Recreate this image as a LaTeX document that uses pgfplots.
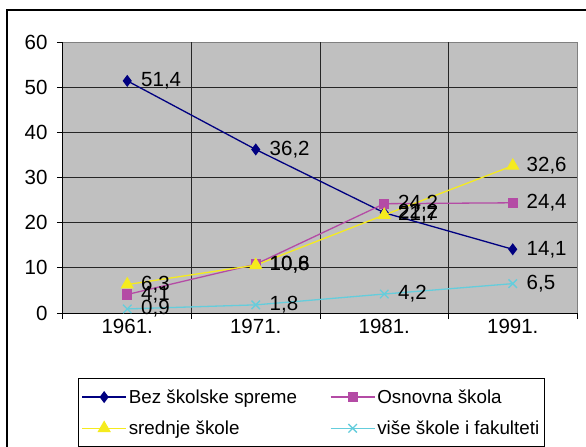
\documentclass[border=0pt]{standalone}
\usepackage{pgfplots}
\pgfplotsset{compat=1.18}
\usepackage{fontspec}
\setmainfont{Liberation Sans}
\newcommand\cf{\fontsize{20.5bp}{24bp}\selectfont}
\newcommand\lf{\fontsize{18.8bp}{22bp}\selectfont}
\definecolor{sNavy}{RGB}{0,0,128}
\definecolor{sMag}{RGB}{180,75,165}
\definecolor{sYel}{RGB}{245,235,30}
\definecolor{sCyan}{RGB}{100,205,220}
\definecolor{plotbg}{RGB}{192,192,192}
\definecolor{plotbd}{RGB}{128,128,128}
\begin{document}
\begin{tikzpicture}
\path[use as bounding box] (0,0) rectangle (586bp,447bp);
\draw[line width=1.3bp] (7bp,0bp) -- (7bp,437bp) -- (586bp,437bp);
\begin{axis}[
  at={(63bp,134bp)}, anchor=south west,
  width=514bp, height=271bp, scale only axis,
  xmin=0.5, xmax=4.5, ymin=0, ymax=60,
  axis lines*=left,
  axis line style={black, line width=1bp},
  axis background/.style={fill=plotbg, draw=plotbd, line width=1bp},
  tick align=outside,
  major tick length=6bp, minor tick length=6bp,
  tick style={black, line width=1bp},
  grid style={draw=black!85, line width=1bp},
  xtick={0.5,1.5,2.5,3.5}, xticklabels={},
  minor xtick={4.5},
  xmajorgrids,
  extra x ticks={1,2,3,4},
  extra x tick labels={1961.,1971.,1981.,1991.},
  extra x tick style={major tick length=0pt, grid=none},
  ytick={0,10,20,30,40,50},
  ymajorgrids,
  extra y ticks={60},
  extra y tick style={grid=none},
  /pgf/number format/assume math mode=true,
  ticklabel style={font=\cf},
  yticklabel style={xshift=-6bp},
  xticklabel style={yshift=-3bp},
  nodes near coords={\pgfmathprintnumber[use comma,fixed,fixed zerofill,precision=1]{\pgfplotspointmeta}},
  every node near coord/.append style={font=\cf, anchor=west, xshift=10bp, text=black},
  legend columns=2,
  legend style={at={(0.0292,-0.2399)}, anchor=north west,
    draw=black, line width=1bp, font=\lf,
    inner xsep=3bp, inner ysep=9bp,
    /tikz/every even column/.append style={column sep=31bp},
    row sep=12bp},
  legend cell align=left,
  legend image code/.code={\draw[mark repeat=2,mark phase=2] plot coordinates {(0bp,0bp) (22bp,0bp) (44bp,0bp)};},
]
\addplot[sNavy, line width=1.3bp, mark=diamond*, mark size=5bp, mark options={fill=sNavy, draw=sNavy}]
  coordinates {(1,51.4) (2,36.2) (3,22.2) (4,14.1)};
\addlegendentry{Bez školske spreme}
\addplot[sMag, line width=1.3bp, mark=square*, mark size=4.5bp, mark options={fill=sMag, draw=sMag}]
  coordinates {(1,4.1) (2,10.8) (3,24.2) (4,24.4)};
\addlegendentry{Osnovna škola}
\addplot[sYel, line width=1.3bp, mark=triangle*, mark size=6.5bp, mark options={fill=sYel, draw=sYel}]
  coordinates {(1,6.3) (2,10.6) (3,21.7) (4,32.6)};
\addlegendentry{srednje škole}
\addplot[sCyan, line width=1.3bp, mark=x, mark size=6bp, mark options={draw=sCyan, line width=1.3bp}]
  coordinates {(1,0.9) (2,1.8) (3,4.2) (4,6.5)};
\addlegendentry{više škole i fakulteti}
\end{axis}
\end{tikzpicture}
\end{document}
